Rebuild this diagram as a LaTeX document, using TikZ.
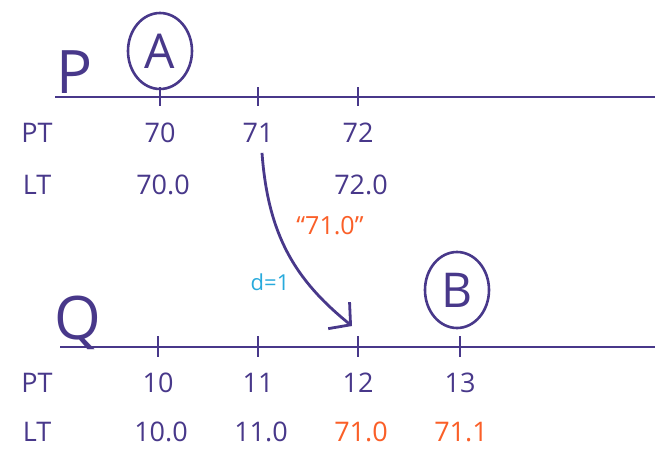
\documentclass[tikz,border=0pt]{standalone}
\usepackage{fontspec}
\setmainfont{Open Sans}
\usetikzlibrary{arrows.meta,positioning,shapes.geometric}
\definecolor{inkpurple}{RGB}{72,56,138}
\definecolor{inkorange}{RGB}{250,95,40}
\definecolor{inkcyan}{RGB}{40,170,220}

\begin{document}
\begin{tikzpicture}[x=1pt, y=-1pt,
    axis/.style={draw=inkpurple, line width=2.8pt},
    tickmark/.style={draw=inkpurple, line width=2.4pt},
    val/.style={text=inkpurple, font=\fontsize{27}{29}\selectfont, inner sep=0pt},
    late/.style={val, text=inkorange},
    proc/.style={text=inkpurple, font=\fontsize{60}{62}\selectfont, inner sep=0pt},
    event/.style={ellipse, draw=inkpurple, line width=2.6pt, minimum width=64pt, minimum height=76pt, inner sep=0pt, text=inkpurple, font=\fontsize{48}{50}\selectfont},
    msg/.style={-{Straight Barb[length=15pt, width=34pt, line width=2.8pt]}, draw=inkpurple, line width=2.8pt}
]
    \useasboundingbox (0,0) rectangle (662,451);

    % process P
    \node[proc] (p) at (75,72) {P};
    \coordinate (pstart) at (55,97);
    \coordinate (pend) at (655,97);
    \draw[axis] (pstart) -- (pend);
    \node[event] (a) at (160,51) {A};
    \foreach \x/\pt/\lt in {160/70/70.0, 258/71/, 358/72/72.0} {
        \draw[tickmark] (\x,87) -- (\x,106);
        \node[val] (pt\pt) at (\x,133) {\pt};
        \node[val] (lt\pt) at (\x+3,185) {\lt};
    }
    \node[val] (ptp) at (37,133) {PT};
    \node[val] (ltp) at (37,185) {LT};

    % process Q
    \node[proc] (q) at (78,323) {Q};
    \coordinate (qstart) at (60,347);
    \coordinate (qend) at (655,347);
    \draw[axis] (qstart) -- (qend);
    \node[event] (b) at (457,290) {B};
    \foreach \x/\pt/\lt in {158/10/10.0, 258/11/11.0, 358/12/, 460/13/} {
        \draw[tickmark] (\x,336) coordinate (tq\pt) -- (\x,357);
        \node[val] (pt\pt) at (\x,383) {\pt};
        \node[val] (lt\pt) at (\x+3,432) {\lt};
    }
    \node[late] (lt12) at (361,432) {71.0};
    \node[late] (lt13) at (461,432) {71.1};
    \node[val] (ptq) at (37,383) {PT};
    \node[val] (ltq) at (37,432) {LT};

    % message from P to Q
    \draw[msg] ([xshift=4pt, yshift=-10pt]pt71.south) .. controls (268,235) and (295,280) .. ([xshift=-6pt, yshift=10pt]tq12);
    \node[text=inkorange, font=\fontsize{25}{27}\selectfont, inner sep=0pt] (stamp) at (330,226) {``71.0''};
    \node[text=inkcyan, font=\fontsize{22}{24}\selectfont, inner sep=0pt] (delay) at (270,282) {d=1};
\end{tikzpicture}
\end{document}
